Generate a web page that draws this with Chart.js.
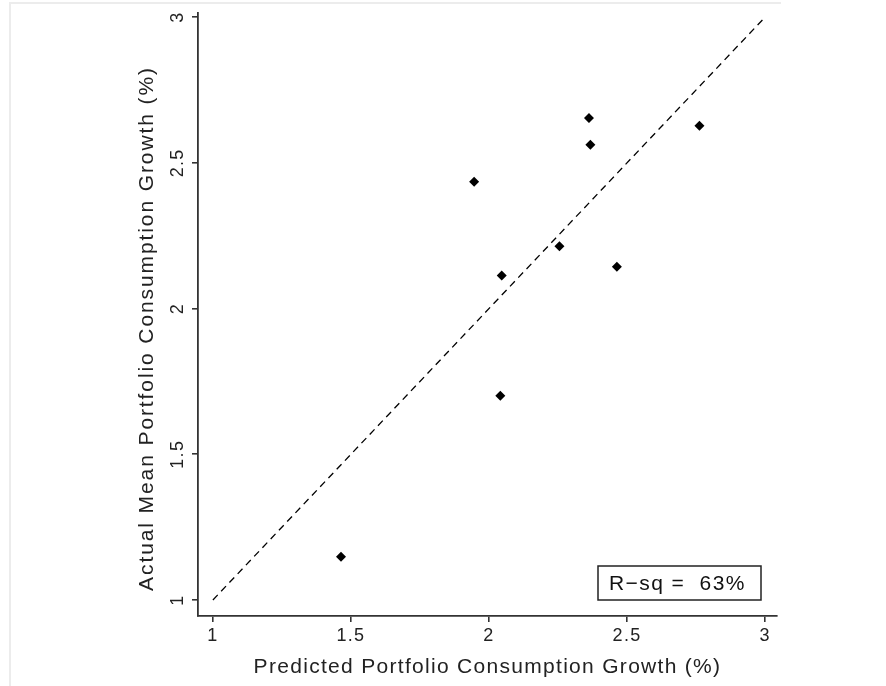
<!DOCTYPE html>
<html>
<head>
<meta charset="utf-8">
<script src="https://cdn.jsdelivr.net/npm/chart.js@4.4.1/dist/chart.umd.min.js"></script>
<style>
    html, body { margin: 0; padding: 0; background: #fff; }
    #wrap { position: relative; width: 886px; height: 686px; }
    #frame {
        position: absolute; left: 9px; top: 2px; width: 770px; height: 700px;
        border-left: 2px solid #ececec; border-top: 2px solid #ececec;
    }
    #chart { position: absolute; left: 0; top: 0; }
</style>
</head>
<body>
<div id="wrap">
    <div id="frame"></div>
    <canvas id="chart" width="886" height="686"></canvas>
</div>
<script>
// Predicted vs actual mean portfolio consumption growth (%)
const predicted = [2.362, 2.367, 2.762, 1.946, 2.255, 2.046, 2.463, 2.041, 1.464];
const actual    = [2.654, 2.562, 2.627, 2.435, 2.214, 2.113, 2.143, 1.701, 1.148];

// 45-degree reference line
const diagX = [1, 3];
const diagY = [1, 3];

const xTicks = [1, 1.5, 2, 2.5, 3];
const yTicks = [1, 1.5, 2, 2.5, 3];

const xTitle = 'Predicted Portfolio Consumption Growth (%)';
const yTitle = 'Actual Mean Portfolio Consumption Growth (%)';
const rsqLabel = 'R\u2212sq =  63%';

const FONT = '"Liberation Sans", Arial, Helvetica, sans-serif';
const AXIS = '#333';

// letter spacing for every text drawn on the canvas
const spacing = {
    id: 'spacing',
    beforeLayout(chart) { chart.ctx.letterSpacing = '1.3px'; },
    beforeDraw(chart) { chart.ctx.letterSpacing = '1.3px'; }
};

// vertical axis title, sits a little below the plot centre
const yTitlePlugin = {
    id: 'yTitle',
    afterDraw(chart) {
        const { ctx, chartArea } = chart;
        ctx.save();
        ctx.letterSpacing = '1.9px';
        ctx.fillStyle = '#222';
        ctx.font = '21px ' + FONT;
        ctx.textAlign = 'center';
        ctx.textBaseline = 'middle';
        ctx.translate(chartArea.left - 51, (chartArea.top + chartArea.bottom) / 2 + 14);
        ctx.rotate(-Math.PI / 2);
        ctx.fillText(yTitle, 0, 0);
        ctx.restore();
    }
};

// boxed R-squared note in the lower right corner
const rsqBox = {
    id: 'rsqBox',
    afterDraw(chart) {
        const { ctx, chartArea } = chart;
        const w = 163, h = 34;
        const right = chartArea.right - 16;
        const bottom = chartArea.bottom - 16;
        ctx.save();
        ctx.letterSpacing = '1.4px';
        ctx.strokeStyle = '#222';
        ctx.lineWidth = 1.5;
        ctx.strokeRect(right - w, bottom - h, w, h);
        ctx.fillStyle = '#111';
        ctx.font = '21px ' + FONT;
        ctx.textBaseline = 'middle';
        ctx.textAlign = 'left';
        ctx.fillText(rsqLabel, right - w + 11, bottom - h / 2 + 1);
        ctx.restore();
    }
};

new Chart(document.getElementById('chart'), {
    type: 'scatter',
    data: {
        datasets: [
            {
                label: 'Portfolios',
                data: predicted.map((x, i) => ({ x: x, y: actual[i] })),
                pointStyle: 'rectRot',
                pointRadius: 5,
                backgroundColor: '#000',
                borderColor: '#000',
                borderWidth: 0
            },
            {
                type: 'line',
                label: '45 degree',
                data: diagX.map((x, i) => ({ x: x, y: diagY[i] })),
                borderColor: '#000',
                borderWidth: 1.3,
                borderDash: [7, 5],
                pointRadius: 0,
                fill: false
            }
        ]
    },
    plugins: [spacing, yTitlePlugin, rsqBox],
    options: {
        responsive: false,
        animation: false,
        layout: { padding: { left: 126, top: 13, right: 109, bottom: 6 } },
        plugins: {
            legend: { display: false },
            tooltip: { enabled: false }
        },
        scales: {
            x: {
                type: 'linear',
                min: 0.946,
                max: 3.043,
                afterBuildTicks: s => { s.ticks = xTicks.map(v => ({ value: v })); },
                afterFit: s => { s.height = 64; },
                border: { color: AXIS, width: 1.8 },
                grid: { drawOnChartArea: false, color: AXIS, lineWidth: 1.6, tickLength: 6 },
                ticks: {
                    color: '#222',
                    font: { family: FONT, size: 18 },
                    padding: 3,
                    maxRotation: 0,
                    callback: v => String(v)
                },
                title: {
                    display: true,
                    text: xTitle,
                    color: '#222',
                    font: { family: FONT, size: 21 },
                    padding: { top: 0, bottom: 0 }
                }
            },
            y: {
                type: 'linear',
                min: 0.945,
                max: 3.014,
                afterBuildTicks: s => { s.ticks = yTicks.map(v => ({ value: v })); },
                afterFit: s => { s.width = 72; },
                border: { color: AXIS, width: 1.8 },
                grid: { drawOnChartArea: false, color: AXIS, lineWidth: 1.6, tickLength: 6 },
                ticks: {
                    color: '#222',
                    font: { family: FONT, size: 18 },
                    padding: 0,
                    minRotation: 90,
                    maxRotation: 90,
                    crossAlign: 'center',
                    callback: v => String(v)
                },
                title: { display: false }
            }
        }
    }
});
</script>
</body>
</html>
